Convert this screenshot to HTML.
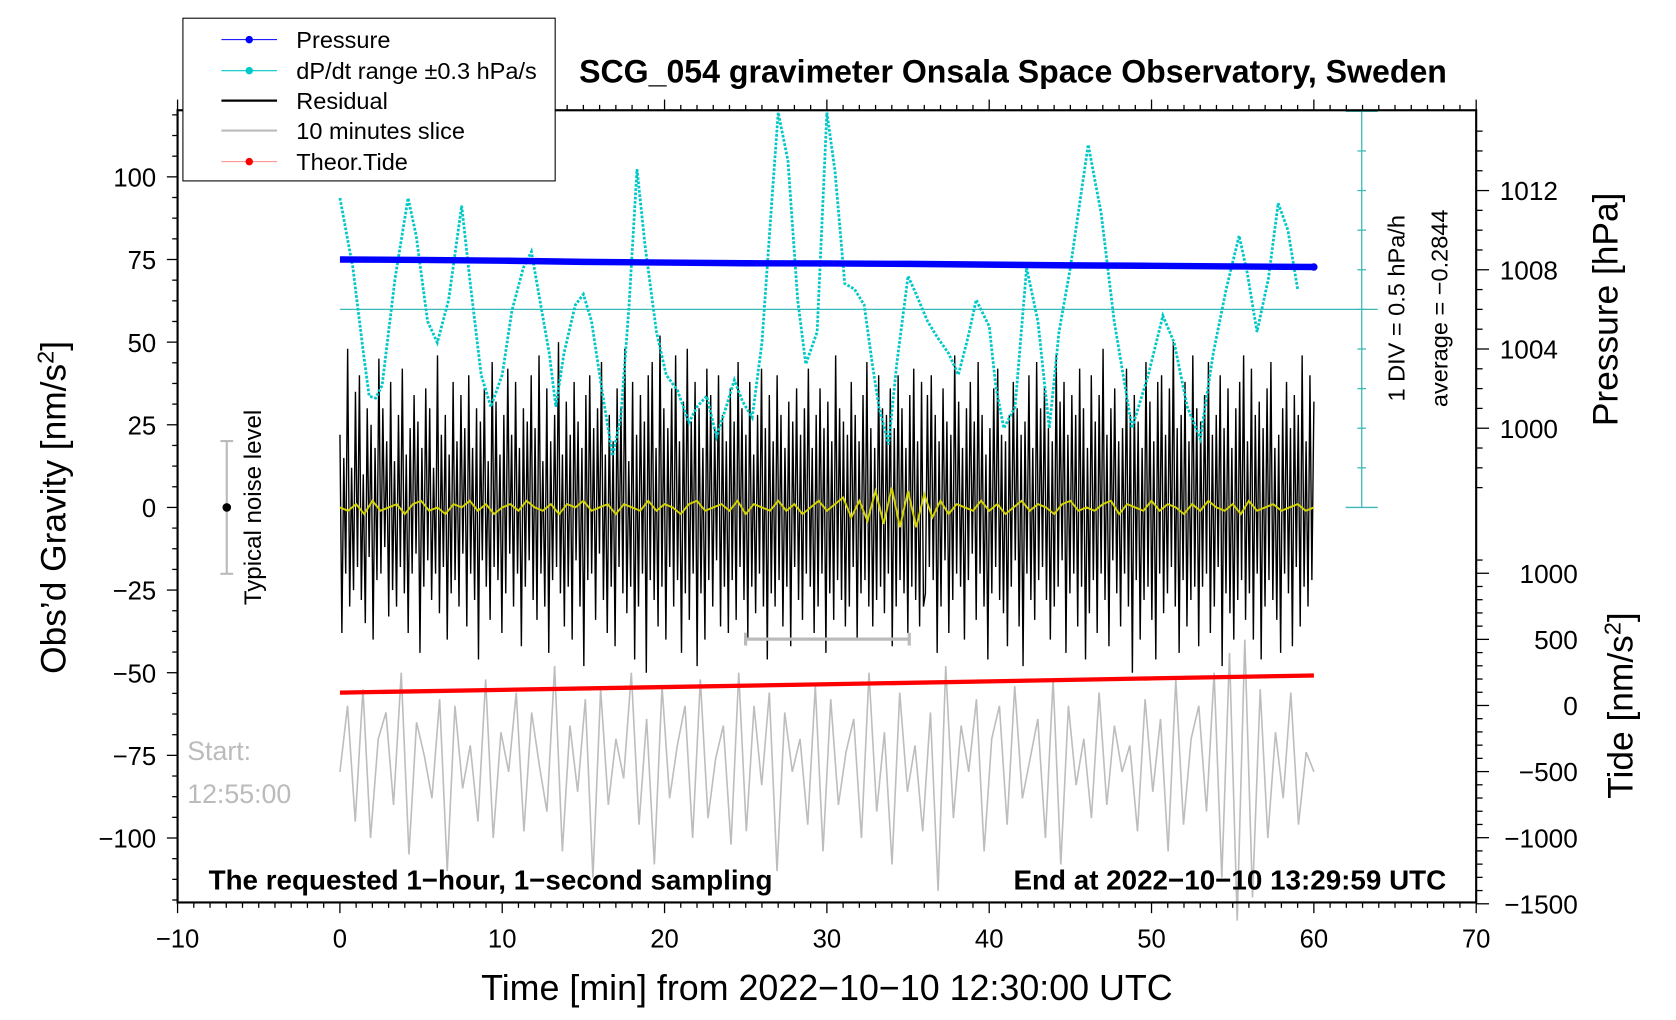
<!DOCTYPE html>
<html><head><meta charset="utf-8"><style>
html,body{margin:0;padding:0;background:#fff;}
svg{display:block;font-family:"Liberation Sans",sans-serif;}
</style></head><body>
<svg id="chart" width="1676" height="1020" viewBox="0 0 1566.8 952.8" preserveAspectRatio="none" xmlns="http://www.w3.org/2000/svg">
<g id="layer"></g>
</svg>
<script>
const residual=[22,-38,15,-20,48,-30,12,-25,35,-18,40,-28,10,-35,30,-15,25,-40,18,-22,
45,-20,30,-12,20,-33,38,-25,14,-30,28,-18,42,-26,16,-38,24,-20,34,-14,
26,-44,18,-24,36,-16,30,-28,12,-20,46,-32,22,-18,28,-40,16,-26,38,-22,
20,-30,34,-14,24,-36,40,-20,18,-28,30,-46,26,-16,36,-24,14,-34,44,-18,
32,-22,16,-38,28,-26,42,-14,22,-30,38,-20,18,-42,30,-24,26,-16,40,-28,
24,-34,46,-20,14,-30,36,-44,20,-22,28,-18,50,-26,16,-36,32,-24,22,-40,
38,-16,26,-30,18,-48,34,-22,40,-20,24,-34,30,-14,44,-28,16,-38,28,-24,
20,-42,36,-18,30,-26,48,-32,14,-24,38,-46,22,-30,34,-20,26,-50,40,-22,
44,-28,18,-36,52,-24,30,-40,24,-18,36,-30,46,-22,20,-44,32,-26,48,-34,
26,-20,38,-48,30,-26,18,-40,42,-22,34,-30,24,-16,40,-36,28,-24,20,-38,
36,-22,26,-34,44,-18,30,-28,22,-40,38,-24,16,-32,28,-20,42,-30,24,-46,
34,-26,20,-30,40,-22,28,-36,18,-24,32,-42,26,-18,36,-28,22,-34,30,-20,
42,-24,18,-38,28,-30,36,-20,24,-44,32,-26,20,-34,46,-22,30,-28,26,-36,
22,-30,38,-18,28,-40,20,-26,34,-22,44,-30,24,-36,18,-28,40,-24,30,-32,
28,-20,36,-42,24,-30,40,-22,30,-26,18,-38,34,-24,42,-28,20,-36,38,-30,
-26,34,-18,40,-22,28,-44,20,-30,36,-16,26,-38,22,-28,46,-20,32,-24,18,
-40,30,-22,38,-14,26,-34,44,-20,28,-30,16,-46,24,-26,36,-18,42,-28,22,
-32,20,-42,28,-24,38,-16,30,-36,22,-48,26,-20,40,-28,18,-34,44,-22,30,
-18,36,-28,24,-40,20,-30,46,-24,32,-16,38,-44,22,-26,34,-20,28,-36,42,
-24,30,-46,18,-32,40,-22,26,-38,34,-20,48,-28,22,-42,30,-16,36,-26,20,
-36,24,-20,42,-30,28,-50,34,-22,26,-40,18,-28,44,-24,32,-34,20,-46,38,
-20,40,-32,22,-26,36,-18,50,-30,24,-44,28,-22,38,-36,20,-28,46,-24,30,
-42,26,-24,34,-20,44,-38,22,-30,28,-18,40,-48,24,-26,36,-32,18,-40,30,
-28,38,-22,46,-34,20,-26,42,-40,28,-20,32,-46,24,-30,36,-22,44,-28,18,
-34,22,-44,30,-20,38,-26,24,-42,34,-18,28,-36,46,-24,20,-30,40,-22,32];
const smoothRes=[0,-1,1,-2,2,-1,0,1,-2,1,2,-1,0,-2,1,0,2,-1,1,-2,0,1,-1,2,0,-1,1,-2,1,0,2,-1,0,1,-2,1,0,-1,2,-1,1,0,-2,1,2,-1,0,1,-1,2,-2,1,0,-1,2,-1,1,-2,0,2,-1,1,3,-3,2,-4,5,-5,6,-6,5,-6,4,-3,2,-2,1,0,-1,2,-1,1,-2,0,2,-1,1,0,-2,1,2,-1,0,-1,1,2,-2,1,0,-1,2,-1,1,0,-2,1,-1,2,0,-1,1,-2,2,-1,0,1,-1,0,1,-1,0];
const slice10=[-80,-60,-95,-55,-100,-70,-62,-90,-50,-105,-65,-75,-88,-58,-110,-60,-85,-72,-95,-52,-100,-68,-80,-56,-98,-62,-78,-92,-48,-104,-66,-86,-58,-112,-55,-90,-70,-82,-50,-96,-64,-108,-54,-88,-72,-60,-100,-52,-94,-76,-66,-102,-50,-98,-60,-84,-56,-110,-62,-80,-70,-96,-54,-104,-58,-90,-74,-64,-100,-50,-92,-68,-108,-56,-86,-72,-98,-62,-116,-48,-94,-66,-80,-58,-104,-70,-60,-96,-54,-88,-76,-64,-100,-52,-108,-60,-84,-70,-94,-56,-90,-66,-80,-72,-98,-58,-86,-64,-104,-52,-96,-70,-60,-92,-50,-112,-44,-125,-40,-118,-55,-100,-68,-88,-56,-96,-74,-80];
const pressureMin=[0,5,10,15,20,25,30,35,40,45,50,55,60];
const pressure=[1008.52,1008.5,1008.46,1008.4,1008.36,1008.33,1008.32,1008.3,1008.26,1008.22,1008.2,1008.17,1008.14];
const dpMin=[0,0.8,1.45,1.8,2.2,2.6,3.4,4.2,4.7,5.4,6.0,6.7,7.5,8.0,8.7,9.3,10.0,10.6,11.3,11.8,12.2,12.9,13.3,13.8,14.5,15.0,15.5,16.2,16.8,17.3,17.8,18.3,18.8,19.5,20.1,20.8,21.5,22.0,22.6,23.2,23.8,24.3,24.8,25.4,26.0,26.6,27.0,27.6,28.2,28.7,29.4,30.0,30.5,31.1,31.7,32.3,32.8,33.2,33.8,34.3,35.0,35.5,36.2,36.8,37.5,38.1,38.7,39.2,40.0,40.4,40.9,41.6,42.3,43.0,43.7,44.3,45.0,46.1,46.9,47.7,48.8,49.8,50.7,51.4,52.2,53.0,53.8,54.6,55.4,55.9,56.5,57.2,57.8,58.4,59.0,59.5,60.0];
const dpDiv=[2.81,1.05,-1.11,-2.19,-2.24,-1.92,0.78,2.81,1.86,-0.3,-0.84,0.24,2.62,0.78,-1.65,-2.46,-1.65,-0.03,1.05,1.46,0.51,-1.11,-2.46,-1.11,0.11,0.38,-0.3,-2.19,-3.7,-2.73,0.03,3.54,1.62,-0.57,-1.65,-2.05,-2.86,-2.46,-2.19,-3.22,-2.46,-1.78,-2.32,-2.73,-0.84,2.68,4.97,3.76,0.24,-1.38,-0.57,4.97,3.49,0.65,0.51,0.11,-1.38,-2.46,-3.41,-1.38,0.84,0.38,-0.3,-0.7,-1.11,-1.65,-0.7,0.24,-0.43,-1.92,-3.0,-2.46,1.05,-0.3,-3.0,-0.57,1.05,4.16,2.41,-0.3,-3.0,-1.65,-0.16,-0.84,-2.46,-3.27,-1.11,0.51,1.86,0.92,-0.57,0.78,2.68,2.0,0.51];
const tideMin=[0,10,20,30,40,50,60];
const tide=[97,118,139,160,182,205,227];
const xTicks=[-10,0,10,20,30,40,50,60,70];
const yTicks=[100,75,50,25,0,-25,-50,-75,-100];
const pTicks=[1012,1008,1004,1000];
const tideTicks=[1000,500,0,-500,-1000,-1500];

const L=166,R=1380,T=103,B=843;
const xS=m=>L+(m+10)*(R-L)/80;
const yS=v=>474-v*3.088;
const pS=p=>252-(p-1008)*18.5;
const tS=t=>659-t*0.1235;
const dS=d=>289-d*37;
const NS="http://www.w3.org/2000/svg";
const layer=document.getElementById('layer');
function mk(tag,attrs,parent){const e=document.createElementNS(NS,tag);for(const k in attrs)e.setAttribute(k,attrs[k]);(parent||layer).appendChild(e);return e;}
function txt(s,attrs){const e=mk('text',attrs);e.textContent=s;return e;}

let pts=slice10.map((v,i)=>xS(i*60/(slice10.length-1)).toFixed(1)+','+yS(v).toFixed(1)).join(' ');
let e=mk('polyline',{points:pts,fill:'none',stroke:'#bdbdbd','stroke-width':1.5});


pts=residual.map((v,i)=>xS(i*60/(residual.length-1)).toFixed(1)+','+yS(v).toFixed(1)).join(' ');
e=mk('polyline',{points:pts,fill:'none',stroke:'#000','stroke-width':1.3});


pts=smoothRes.map((v,i)=>xS(i*60/(smoothRes.length-1)).toFixed(1)+','+yS(v).toFixed(1)).join(' ');
e=mk('polyline',{points:pts,fill:'none',stroke:'#d4d400','stroke-width':1.8});


pts=tide.map((v,i)=>xS(tideMin[i]).toFixed(1)+','+tS(v).toFixed(1)).join(' ');
e=mk('polyline',{points:pts,fill:'none',stroke:'#f00','stroke-width':4});


const cx=1273;
e=mk('line',{x1:cx,y1:dS(5),x2:cx,y2:dS(-5),stroke:'#3cb8b8','stroke-width':1.2});


for(let d=-5;d<=5;d++){const w=(d==5||d==-5)?15:4;mk('line',{x1:cx-w,y1:dS(d),x2:cx+w,y2:dS(d),stroke:'#3cb8b8','stroke-width':1.2});}
e=mk('line',{x1:xS(0),y1:dS(0),x2:cx+15,y2:dS(0),stroke:'#3cb8b8','stroke-width':1.2});


pts=dpDiv.map((v,i)=>xS(dpMin[i]).toFixed(1)+','+dS(v).toFixed(1)).join(' ');
e=mk('polyline',{points:pts,fill:'none',stroke:'#00c8c8','stroke-width':2.6,'stroke-dasharray':'2.5 1.5'});


pts=pressure.map((v,i)=>xS(pressureMin[i]).toFixed(1)+','+pS(v).toFixed(1)).join(' ');
e=mk('polyline',{points:pts,fill:'none',stroke:'#0000ff','stroke-width':6});


mk('circle',{cx:xS(60),cy:pS(pressure[pressure.length-1]),r:3.5,fill:'#0000ff'});

e=mk('rect',{x:L,y:T,width:R-L,height:B-T,fill:'none',stroke:'#000','stroke-width':2});


for(let m=-10;m<=70;m++){const big=m%10==0;mk('line',{x1:xS(m),y1:B,x2:xS(m),y2:B+(big?10:5),stroke:'#000','stroke-width':1.2});mk('line',{x1:xS(m),y1:T,x2:xS(m),y2:T-(big?10:5),stroke:'#000','stroke-width':1.2});}
xTicks.forEach(m=>{const t=txt(String(m).replace('-','\u2212'),{x:xS(m),y:885,'font-size':24,'text-anchor':'middle'});

});
for(let v=-118.75;v<=120;v+=6.25){const big=Math.abs(v%25)<0.01;mk('line',{x1:L,y1:yS(v),x2:L-(big?10:5),y2:yS(v),stroke:'#000','stroke-width':1.2});}
yTicks.forEach(v=>{const t=txt(String(v).replace('-','\u2212'),{x:146,y:yS(v)+9,'font-size':24,'text-anchor':'end'});

});
for(let p=997;p<=1015;p++){const big=p%4==0;const y=pS(p);if(y<T||y>=B-320)continue;mk('line',{x1:R,y1:y,x2:R+(big?12:6),y2:y,stroke:'#000','stroke-width':1.2});}
pTicks.forEach(p=>{const t=txt(String(p),{x:1402,y:pS(p)+9,'font-size':24.5});

});
for(let v=-1500;v<=1100;v+=100){const big=v%500==0;const y=tS(v);if(y<520)continue;mk('line',{x1:R,y1:y,x2:R+(big?12:6),y2:y,stroke:'#000','stroke-width':1.2});}
tideTicks.forEach(v=>{const t=txt(String(v).replace('-','\u2212'),{x:1475,y:tS(v)+9,'font-size':24.5,'text-anchor':'end'});

});
</script>
<script>
(function(){
const layer=document.getElementById('layer');
const NS="http://www.w3.org/2000/svg";
function add(html){const g=document.createElementNS(NS,'g');g.innerHTML=html;layer.appendChild(g);}
add(`
<g stroke="#bbb" stroke-width="3"><line x1="697" y1="597" x2="850" y2="597"/><line x1="697" y1="591" x2="697" y2="603"/><line x1="850" y1="591" x2="850" y2="603"/></g>
<g><line x1="212" y1="412" x2="212" y2="536" stroke="#bbb" stroke-width="2"/><line x1="206" y1="412" x2="218" y2="412" stroke="#bbb" stroke-width="2"/><line x1="206" y1="536" x2="218" y2="536" stroke="#bbb" stroke-width="2"/><circle cx="212" cy="474" r="4" fill="#000"/></g>
<text transform="translate(244,474) rotate(-90)" font-size="22.5" text-anchor="middle">Typical noise level</text>
<text x="175" y="710" font-size="25" fill="#bbb">Start:</text>
<text x="175" y="750" font-size="25" fill="#bbb">12:55:00</text>
<text x="195" y="831" font-size="26" font-weight="bold">The requested 1−hour, 1−second sampling</text>
<text x="1352" y="831" font-size="26" font-weight="bold" text-anchor="end">End at 2022−10−10 13:29:59 UTC</text>
<text x="947" y="77" font-size="30" font-weight="bold" text-anchor="middle">SCG_054 gravimeter Onsala Space Observatory, Sweden</text>
<text transform="translate(1313,288) rotate(-90)" font-size="22" text-anchor="middle">1 DIV = 0.5 hPa/h</text>
<text transform="translate(1353,288) rotate(-90)" font-size="22" text-anchor="middle">average = −0.2844</text>
<text transform="translate(61,474) rotate(-90)" font-size="33" text-anchor="middle">Obs’d Gravity [nm/s<tspan dy="-11" font-size="22">2</tspan><tspan dy="11">]</tspan></text>
<text transform="translate(1512,289) rotate(-90)" font-size="33" text-anchor="middle">Pressure [hPa]</text>
<text transform="translate(1526,659) rotate(-90)" font-size="33" text-anchor="middle">Tide [nm/s<tspan dy="-11" font-size="22">2</tspan><tspan dy="11">]</tspan></text>
<text x="773" y="934" font-size="33.5" text-anchor="middle">Time [min] from 2022−10−10 12:30:00 UTC</text>
<g>
<rect x="171" y="17" width="348" height="152" fill="#fff" stroke="#000" stroke-width="1"/>
<g><line x1="207" y1="37" x2="259" y2="37" stroke="#0000ff"/><circle cx="233" cy="37" r="3.5" fill="#0000ff"/><text x="277" y="45" font-size="22">Pressure</text></g>
<g><line x1="207" y1="66" x2="259" y2="66" stroke="#00c8c8"/><circle cx="233" cy="66" r="3.5" fill="#00c8c8"/><text x="277" y="74" font-size="22">dP/dt range ±0.3 hPa/s</text></g>
<g><line x1="207" y1="94" x2="259" y2="94" stroke="#000" stroke-width="2"/><text x="277" y="102" font-size="22">Residual</text></g>
<g><line x1="207" y1="122" x2="259" y2="122" stroke="#bbb" stroke-width="2"/><text x="277" y="130" font-size="22">10 minutes slice</text></g>
<g><line x1="207" y1="151" x2="259" y2="151" stroke="#f88"/><circle cx="233" cy="151" r="3.5" fill="#f00"/><text x="277" y="159" font-size="22">Theor.Tide</text></g>
</g>`);
})();
</script>
</body></html>
